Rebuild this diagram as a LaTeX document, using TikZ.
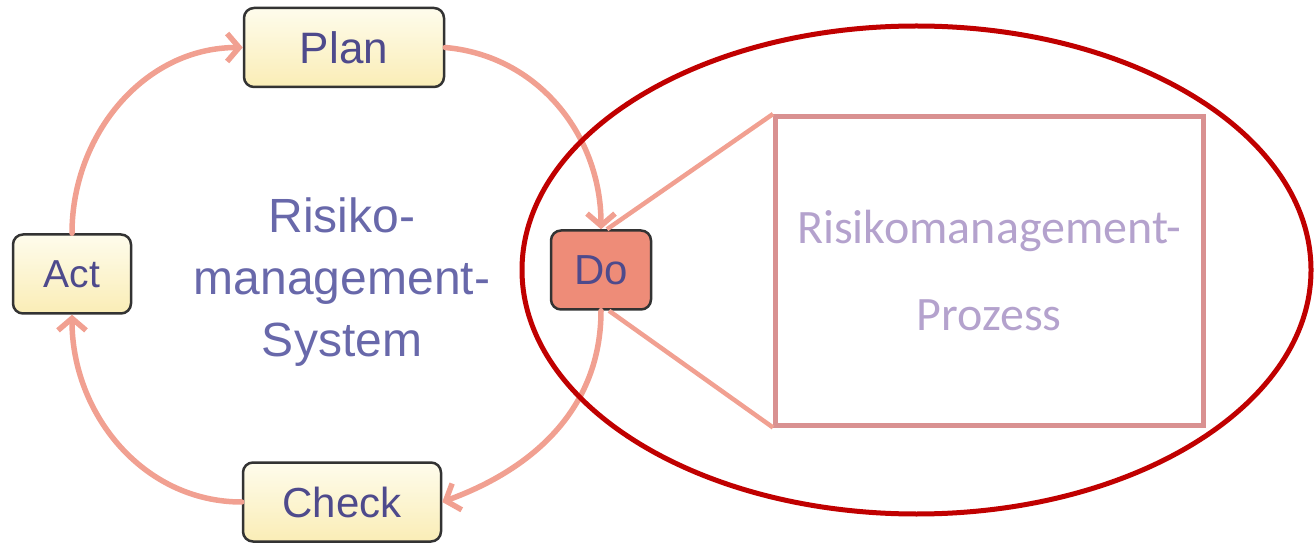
\documentclass[tikz,border=0pt]{standalone}
\usepackage{fontspec}
\usepackage{tikz}
\usetikzlibrary{arrows.meta,shapes.geometric}

\newfontfamily\arialfont{Liberation Sans}
\newfontfamily\calibrifont{Carlito}

\definecolor{boxtext}{RGB}{78,74,140}
\definecolor{systext}{RGB}{104,104,170}
\definecolor{cycleline}{RGB}{241,160,145}
\definecolor{dofill}{RGB}{238,140,120}
\definecolor{creamtop}{RGB}{254,252,236}
\definecolor{creambottom}{RGB}{250,237,182}
\definecolor{ellred}{RGB}{192,0,0}
\definecolor{prozessline}{RGB}{217,145,145}
\definecolor{prozesstext}{RGB}{180,162,205}

\begin{document}
\begin{tikzpicture}[
    x=1pt, y=1pt,
    >={Straight Barb[length=12pt,width=28pt]},
    phase/.style={
      rectangle,
      rounded corners=10pt,
      draw=black!80,
      line width=2.5pt,
      minimum height=79pt,
      inner sep=0pt,
      font=\arialfont\fontsize{42}{46}\selectfont,
      text=boxtext
    },
    phase-cream/.style={
      phase,
      top color=creamtop,
      bottom color=creambottom
    },
    cycle-arrow/.style={
      ->,
      draw=cycleline,
      line width=5.5pt,
      line cap=round
    },
  ]
  \useasboundingbox (0,0) rectangle (1314,544);

  %%%%%%%%%%%%%%%%%%%%%%%%%%%%%%%%%%%%%%%%%%%%%%
  %%%%%%%%%%%%%%%% ACTUAL NODES %%%%%%%%%%%%%%%%%%%
  %%%%%%%%%%%%%%%%%%%%%%%%%%%%%%%%%%%%%%%%%%%%%%
    \node[phase-cream, minimum width=200pt, font=\arialfont\fontsize{44}{48}\selectfont] (Plan) at (344,496.5) {Plan};
    \node[phase-cream, minimum width=118pt, font=\arialfont\fontsize{39}{44}\selectfont] (Act) at (72,270) {Act};
    \node[phase, minimum width=100pt, fill=dofill] (Do) at (601,274) {Do};
    \node[phase-cream, minimum width=198pt] (Check) at (342,42) {Check};

    \node[align=center, text=systext, font=\arialfont\fontsize{48}{62}\selectfont]
      (system) at (342,262) {Risiko-\\management-\\System};

    \node[rectangle, draw=prozessline, line width=5pt, inner sep=0pt,
      minimum width=427.5pt, minimum height=308.5pt, align=center,
      text=prozesstext, font=\calibrifont\fontsize{48}{87}\selectfont]
      (prozess) at (989.25,273.25) {Risikomanagement-\\Prozess};

  %%%%%%%%%%%%%%%%%%%%%%%%%%%%%%%%%%%%%%%%%%%%%%
  %%%%%%%%%%%%%%%%%% PATHS %%%%%%%%%%%%%%%%%%%%%%%
  %%%%%%%%%%%%%%%%%%%%%%%%%%%%%%%%%%%%%%%%%%%%%%
    \path[cycle-arrow] (Act.north) to[out=90, in=180] (Plan.west);
    \path[cycle-arrow] (Plan.east) to[out=-5, in=90] (Do.north);
    \path[cycle-arrow] (Do.south) to[out=-90, in=20] (Check.east);
    \path[cycle-arrow] (Check.west) to[out=180, in=-90] (Act.south);

    \path[-, draw=cycleline, line width=4.5pt] ([xshift=6pt]Do.north) -- (prozess.north west);
    \path[-, draw=cycleline, line width=4.5pt] ([xshift=8pt]Do.south) -- (prozess.south west);

    \draw[ellred, line width=5pt] (916.5,274) ellipse [x radius=394.5pt, y radius=244pt];

  \end{tikzpicture}
\end{document}
